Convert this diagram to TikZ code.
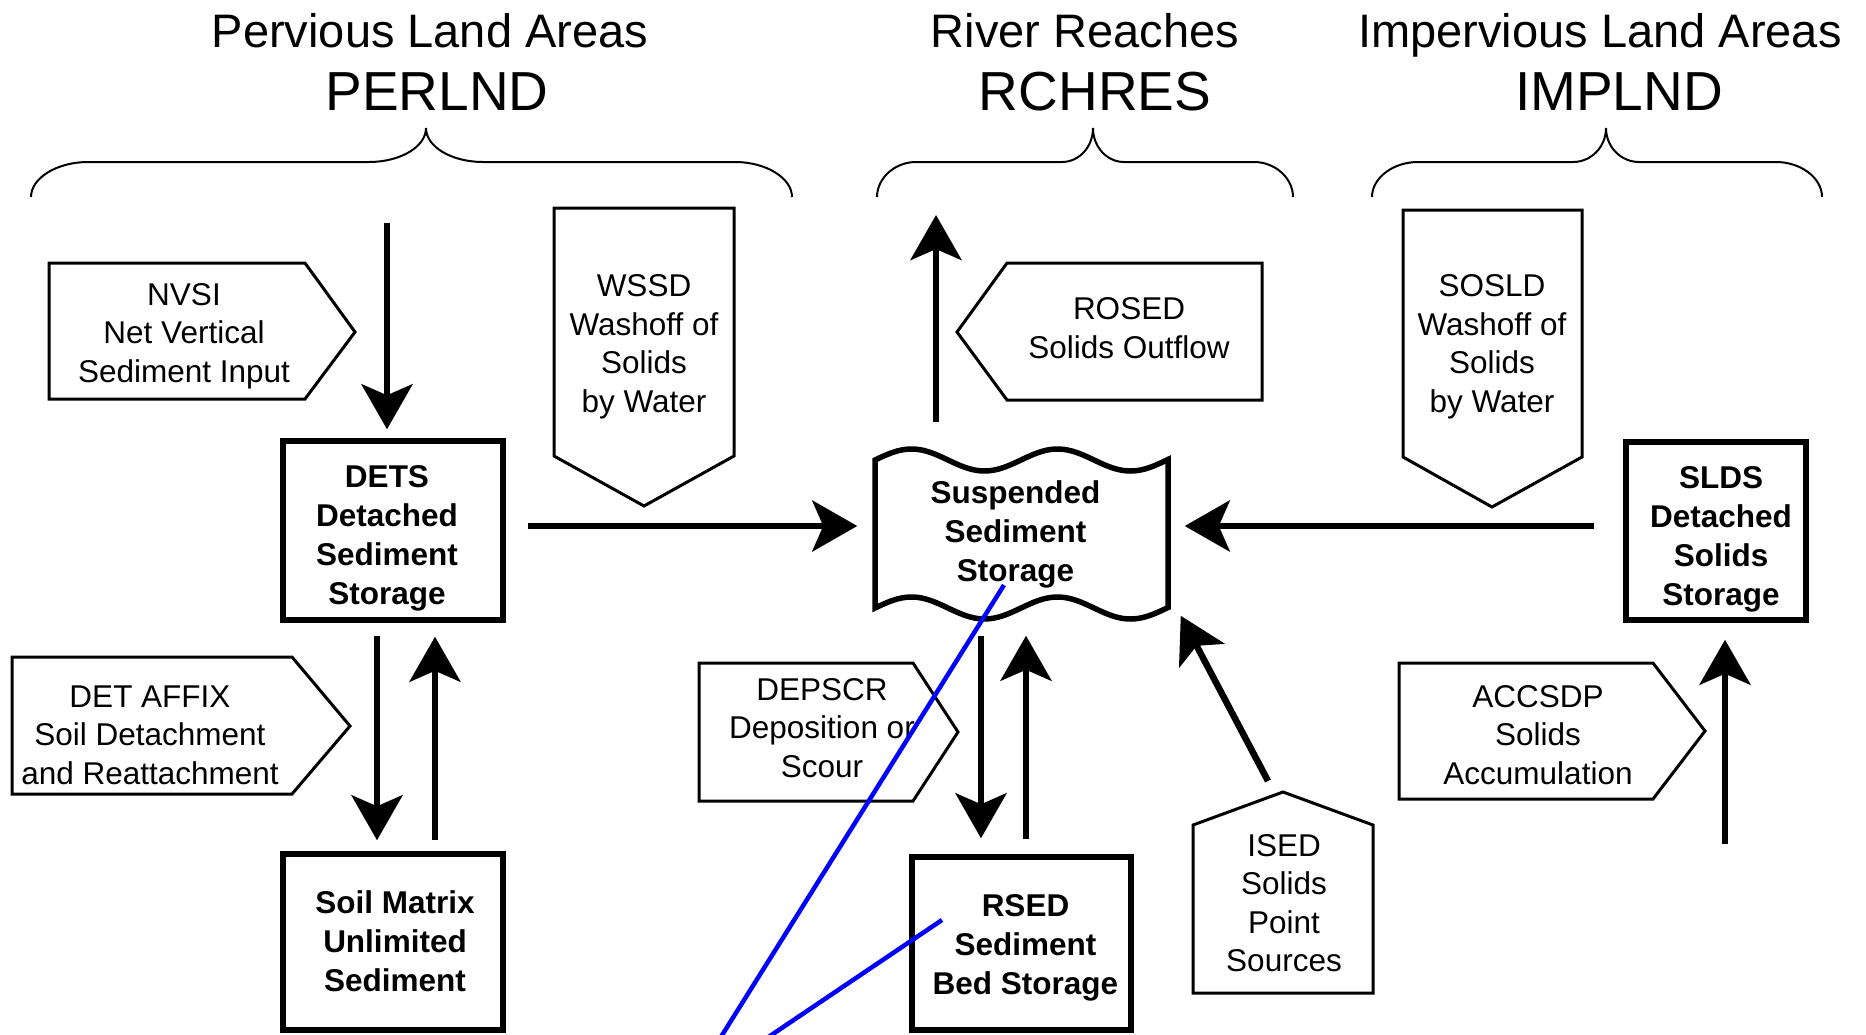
\documentclass[tikz,border=0pt]{standalone}
\usepackage{fontspec}
\setmainfont{Liberation Sans}
\usetikzlibrary{arrows.meta,positioning,calc}

\begin{document}
\begin{tikzpicture}[x=1pt,y=-1pt,>={Stealth[length=45pt,width=51pt,inset=11pt]},
   store/.style={draw,line width=5.5pt,inner sep=0pt},
   storetext/.style={align=center,inner sep=0pt,font=\fontsize{31.5}{39}\selectfont\bfseries},
   tagtext/.style={align=center,inner sep=0pt,font=\fontsize{31.5}{38.5}\selectfont},
   tagline/.style={line width=3pt},
   flow/.style={->,line width=6.5pt},
   braceline/.style={line width=2pt},
   areatitle/.style={anchor=base,font=\fontsize{47}{56}\selectfont},
   modtitle/.style={anchor=base,font=\fontsize{55}{66}\selectfont},
   bluestroke/.style={draw=blue,line width=4.5pt}]
  \useasboundingbox (0,0) rectangle (1866,1034);

  % titles and braces
  \node[areatitle] (pertitle) at (430,47)  {Pervious Land Areas};
  \node[modtitle]  (perlnd)   at (437,110) {PERLND};
  \node[areatitle] (rchtitle) at (1085,47) {River Reaches};
  \node[modtitle]  (rchres)   at (1095,110) {RCHRES};
  \node[areatitle] (imptitle) at (1600,47) {Impervious Land Areas};
  \node[modtitle]  (implnd)   at (1619,110) {IMPLND};
  \draw[braceline] (31,197) .. controls (31,178) and (57,162) .. (88,162) -- (369,162)
    .. controls (400,162) and (426,147) .. (426,128) .. controls (426,147) and (452,162) .. (483,162)
    -- (735,162) .. controls (766,162) and (792,178) .. (792,197);
  \draw[braceline] (877,197) .. controls (877,178) and (895,162) .. (916,162) -- (1062,162)
    .. controls (1079,162) and (1093,147) .. (1093,128) .. controls (1093,147) and (1107,162) .. (1124,162)
    -- (1254,162) .. controls (1275,162) and (1293,178) .. (1293,197);
  \draw[braceline] (1372,197) .. controls (1372,178) and (1393,162) .. (1418,162) -- (1573,162)
    .. controls (1591,162) and (1606,147) .. (1606,128) .. controls (1606,147) and (1621,162) .. (1639,162)
    -- (1776,162) .. controls (1801,162) and (1822,178) .. (1822,197);

  % storages
  \node[store,minimum width=220pt,minimum height=179pt] (dets) at (393,530.5) {};
  \node[storetext] (dets text) at ([shift={(-6pt,-8pt)}]dets.center) {DETS\\Detached\\Sediment\\Storage};
  \node[store,minimum width=220pt,minimum height=176pt] (soil) at (393,942) {};
  \node[storetext] (soil text) at ([shift={(2pt,1pt)}]soil.center) {Soil Matrix\\Unlimited\\Sediment};
  \node[store,minimum width=219pt,minimum height=173pt] (rsed) at (1021.5,943.5) {};
  \node[storetext] (rsed text) at ([shift={(4pt,-4pt)}]rsed.center) {RSED\\Sediment\\Bed Storage};
  \node[store,minimum width=180pt,minimum height=178pt] (slds) at (1716,531) {};
  \node[storetext] (slds text) at ([shift={(5pt,-8pt)}]slds.center) {SLDS\\Detached\\Solids\\Storage};
  \node[store,draw=none,minimum width=293pt,minimum height=148pt] (sss) at (1021.5,534) {};
  \node[storetext] (sss text) at ([shift={(-6pt,0pt)}]sss.center) {Suspended\\Sediment\\Storage};
  \draw[line width=5.5pt] (875,460) -- plot[domain=0:293,samples=80] ({875+\x},{460-11*sin(\x*2.4658)})
    -- plot[domain=293:0,samples=80] ({875+\x},{608-11*sin(\x*2.4658)}) -- cycle;

  % process tags
  \draw[tagline] (49,263) -- (305,263) -- (355,332) -- (305,399) -- (49,399) -- cycle;
  \node[tagtext] (nvsi) at (184,336) {NVSI\\Net Vertical\\Sediment Input};
  \draw[tagline] (12,657) -- (292,657) -- (350,726) -- (292,794) -- (12,794) -- cycle;
  \node[tagtext] (detaffix) at (150,735) {DET AFFIX\\Soil Detachment\\and Reattachment};
  \draw[tagline] (554,208) -- (734,208) -- (734,456) -- (644,506) -- (554,456) -- cycle;
  \node[tagtext] (wssd) at (644,347) {WSSD\\Washoff of\\Solids\\by Water};
  \draw[tagline] (957,332) -- (1007,263) -- (1262,263) -- (1262,400) -- (1007,400) -- cycle;
  \node[tagtext] (rosed) at (1129,328) {ROSED\\Solids Outflow};
  \draw[tagline] (1403,210) -- (1582,210) -- (1582,457) -- (1492,507) -- (1403,457) -- cycle;
  \node[tagtext] (sosld) at (1492,347) {SOSLD\\Washoff of\\Solids\\by Water};
  \draw[tagline] (699,663) -- (913,663) -- (958,732) -- (913,801) -- (699,801) -- cycle;
  \node[tagtext] (depscr) at (822,728) {DEPSCR\\Deposition or\\Scour};
  \coordinate (ised top) at (1283,792);
  \draw[tagline] (1193,825) -- (ised top) -- (1373,825) -- (1373,993) -- (1193,993) -- cycle;
  \node[tagtext] (ised) at (1284,903) {ISED\\Solids\\Point\\Sources};
  \draw[tagline] (1399,663) -- (1653,663) -- (1705,731) -- (1653,799) -- (1399,799) -- cycle;
  \node[tagtext] (accsdp) at (1538,735) {ACCSDP\\Solids\\Accumulation};

  % flows
  \coordinate (nvsi src) at (387,223);
  \coordinate (rosed dst) at (936,215);
  \coordinate (accsdp src) at (1725,844);
  \draw[flow,shorten >=9pt] (nvsi src) -- (nvsi src |- dets.north);
  \draw[flow,shorten <=22pt,shorten >=15pt] ([yshift=4.5pt]dets.east) -- ([yshift=8pt]sss.west);
  \draw[flow,shorten <=35pt] (sss.north -| rosed dst) -- (rosed dst);
  \draw[flow,shorten <=29pt,shorten >=14pt] ([yshift=5pt]slds.west) -- ([yshift=8pt]sss.east);
  \draw[flow,shorten >=17pt] (accsdp src) -- (accsdp src |- slds.south);
  \draw[flow] ([shift={(-15pt,11pt)}]ised top) -- ([shift={(10pt,-5pt)}]sss.south east);
  \draw[flow,shorten <=25pt,shorten >=16pt] ([xshift=-40.5pt]sss.south) -- ([xshift=-40.5pt]rsed.north);
  \draw[flow,shorten <=15pt,shorten >=25pt] ([xshift=4.5pt]rsed.north) -- ([xshift=4.5pt]sss.south);
  \draw[flow,shorten <=13pt,shorten >=11pt] ([xshift=-16pt]dets.south) -- ([xshift=-16pt]soil.north);
  \draw[flow,shorten <=11pt,shorten >=14pt] ([xshift=42pt]soil.north) -- ([xshift=42pt]dets.south);

  % blue strokes
  \coordinate (pen a) at (1004,585);
  \coordinate (pen b) at (719,1040);
  \coordinate (pen c) at (942,920);
  \coordinate (pen d) at (764,1040);
  \draw[bluestroke] (pen a) -- (pen b);
  \draw[bluestroke] (pen c) -- (pen d);
\end{tikzpicture}
\end{document}
